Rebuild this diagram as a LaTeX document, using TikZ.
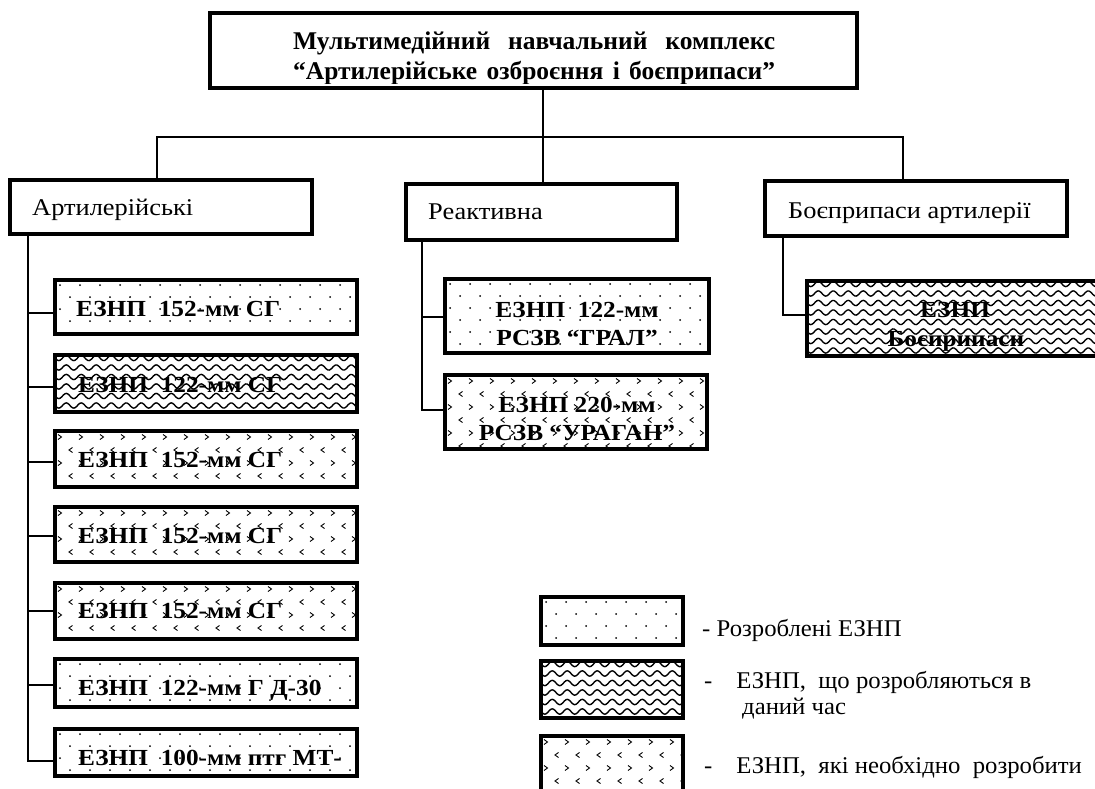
\documentclass[tikz,border=0pt]{standalone}
\usepackage{fontspec}
\setmainfont{Liberation Serif}
\newfontfamily\regf[FakeStretch=1.1]{Liberation Serif}
\newfontfamily\legf[FakeStretch=1.03]{Liberation Serif}
\newfontfamily\lblf[FakeStretch=1.1]{Liberation Serif}
\newcommand\pdots[4]{\begin{scope}\clip (#1,#2) rectangle (#3,#4);
 \foreach \j in {0,...,8}{\foreach \i in {0,...,16}{%
   \fill ({#1+5+\i*20+10*mod(\j,2)},{#2+5+\j*12}) circle[radius=1pt];}}\end{scope}}
\newcommand\pwave[4]{\begin{scope}\clip (#1,#2) rectangle (#3,#4);
 \foreach \j in {0,...,9}{%
   \draw[line width=1.4pt] plot[domain=#1:#3,samples=240] (\x,{#2+3+\j*9.5+2.6*sin((\x-#1)*24)});}\end{scope}}
\newcommand\pchev[4]{\begin{scope}\clip (#1,#2) rectangle (#3,#4);
 \foreach \j in {0,...,7}{\foreach \i in {0,...,15}{%
   \pgfmathsetmacro\cx{#1+5+\i*21+10.5*mod(\j,2)}%
   \pgfmathsetmacro\cy{#2+6+\j*13}%
   \ifodd\j \draw[chev] ({\cx+2},{\cy-2.5}) -- ({\cx-1.5},{\cy}) -- ({\cx+2},{\cy+2.5});%
   \else \draw[chev] ({\cx-2},{\cy-2.5}) -- ({\cx+1.5},{\cy}) -- ({\cx-2},{\cy+2.5});\fi
 }}\end{scope}}
\begin{document}
\begin{tikzpicture}[x=1pt,y=-1pt,
  conn/.style={line width=1.6pt},
  chev/.style={line width=0.9pt},
  bx/.style={draw, line width=3.6pt, inner sep=0pt, outer sep=0pt, anchor=north west},
  cattxt/.style={font=\regf\fontsize{24}{28}\selectfont, anchor=base west, inner sep=0pt},
  lbl/.style={font=\lblf\bfseries\fontsize{23}{28}\selectfont, anchor=base west, inner sep=0pt},
  lblc/.style={font=\lblf\bfseries\fontsize{23}{28}\selectfont, anchor=base, inner sep=0pt},
  legtxt/.style={font=\legf\fontsize{24}{28}\selectfont, anchor=base west, inner sep=0pt},
  ttl/.style={font=\bfseries\fontsize{25.5}{30}\selectfont, anchor=base west, inner sep=0pt},
]
\useasboundingbox (0,0) rectangle (1095,789);

% ---- title
\node[bx, line width=4.4pt, minimum width=647pt, minimum height=75pt] (title) at (210,13) {};
\node[ttl] (t1) at (293,50)
  {\makebox[482pt][s]{Мультимедійний  навчальний  комплекс}};
\begin{scope}
\clip (212,15) rectangle (855,84);
\node[ttl] (t2) at (293,80)
  {\makebox[482pt][s]{“Артилерійське  озброєння  і боєприпаси”}};
\end{scope}

% ---- categories
\node[bx, minimum width=302pt, minimum height=54pt] (art) at (10,180) {};
\node[cattxt] (artT) at (32,215) {Артилерійські};
\node[bx, minimum width=271pt, minimum height=56pt] (rea) at (406,184) {};
\node[cattxt] (reaT) at (428,219) {Реактивна};
\node[bx, minimum width=302pt, minimum height=55pt] (boe) at (765,181) {};
\node[cattxt] (boeT) at (788,218) {Боєприпаси артилерії};

% ---- left column boxes
\pdots{55}{280}{357}{334}
\node[bx, minimum width=302pt, minimum height=54pt] (a1) at (55,280) {};
\node[lbl] (a1T) at (76,316) {ЕЗНП~~152-мм СГ};
\pwave{55}{355}{357}{412}
\node[bx, minimum width=302pt, minimum height=57pt] (a2) at (55,355) {};
\node[lbl] (a2T) at (78,392) {ЕЗНП~~122-мм СГ};
\pchev{55}{431}{357}{487}
\node[bx, minimum width=302pt, minimum height=56pt] (a3) at (55,431) {};
\node[lbl] (a3T) at (78,467) {ЕЗНП~~152-мм СГ};
\pchev{55}{507}{357}{562}
\node[bx, minimum width=302pt, minimum height=55pt] (a4) at (55,507) {};
\node[lbl] (a4T) at (78,543) {ЕЗНП~~152-мм СГ};
\pchev{55}{583}{357}{639}
\node[bx, minimum width=302pt, minimum height=56pt] (a5) at (55,583) {};
\node[lbl] (a5T) at (78,618) {ЕЗНП~~152-мм СГ};
\pdots{55}{659}{357}{707}
\node[bx, minimum width=302pt, minimum height=48pt] (a6) at (55,659) {};
\node[lbl] (a6T) at (78,695) {ЕЗНП~~122-мм Г Д-30};
\pdots{55}{729}{357}{776}
\node[bx, minimum width=302pt, minimum height=47pt] (a7) at (55,729) {};
\node[lbl] (a7T) at (78,765) {ЕЗНП~~100-мм птг МТ-};

% ---- middle column boxes
\pdots{445}{279}{709}{353}
\node[bx, minimum width=264pt, minimum height=74pt] (r1) at (445,279) {};
\node[lblc] (r1a) at (577,317) {ЕЗНП~~122-мм};
\node[lblc] (r1b) at (577,345) {РСЗВ “ГРАЛ”};
\pchev{445}{375}{707}{449}
\node[bx, minimum width=262pt, minimum height=74pt] (r2) at (445,375) {};
\node[lblc] (r2a) at (577,412) {ЕЗНП~220-мм};
\node[lblc] (r2b) at (577,440) {РСЗВ “УРАГАН”};

% ---- right column box (runs past the right edge)
\pwave{807}{281}{1100}{356}
\node[bx, minimum width=300pt, minimum height=75pt] (b1) at (807,281) {};
\node[lblc] (b1a) at (955,317) {ЕЗНП};
\node[lblc] (b1b) at (956,346) {Боєприпаси};

% ---- connectors
\coordinate (jL) at (157,137);
\coordinate (jC) at (543,137);
\coordinate (jR) at (903,137);
\draw[conn] (title.south -| jC) -- (rea.north -| jC);
\draw[conn] (art.north -| jL) -- (jL) -- (jR) -- (boe.north -| jR);
\coordinate (vL) at (28,761);
\draw[conn] (art.south -| vL) -- (vL) -- (a7.west |- vL);
\draw[conn] (28,313) -- (a1.west |- 0,313);
\draw[conn] (28,387) -- (a2.west |- 0,387);
\draw[conn] (28,462) -- (a3.west |- 0,462);
\draw[conn] (28,536) -- (a4.west |- 0,536);
\draw[conn] (28,611) -- (a5.west |- 0,611);
\draw[conn] (28,685) -- (a6.west |- 0,685);
\coordinate (vM) at (422,410);
\draw[conn] (rea.south -| vM) -- (vM) -- (r2.west |- vM);
\draw[conn] (422,317) -- (r1.west |- 0,317);
\coordinate (vR) at (783,315);
\draw[conn] (boe.south -| vR) -- (vR) -- (b1.west |- vR);

% ---- legend
\pdots{541}{597}{683}{645}
\node[bx, minimum width=142pt, minimum height=48pt] (g1) at (541,597) {};
\node[legtxt] (g1T) at (702,636) {- Розроблені ЕЗНП};
\pwave{541}{661}{683}{718}
\node[bx, minimum width=142pt, minimum height=57pt] (g2) at (541,661) {};
\node[legtxt] (g2T) at (704,688) {-\quad ЕЗНП,~ що розробляються в};
\node[legtxt] (g2U) at (742,714) {даний час};
\pchev{541}{736}{683}{795}
\node[bx, minimum width=142pt, minimum height=59pt] (g3) at (541,736) {};
\node[legtxt] (g3T) at (704,773) {-\quad ЕЗНП,~ які необхідно~ розробити};
\end{tikzpicture}
\end{document}
